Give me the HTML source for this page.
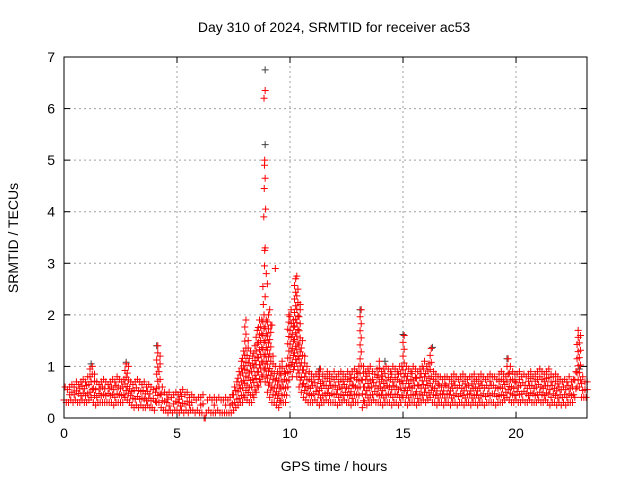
<!DOCTYPE html>
<html><head><meta charset="utf-8"><style>
html,body{margin:0;padding:0;background:#fff}
svg{display:block;font-family:"Liberation Sans",sans-serif}
</style></head><body>
<svg id="chart" width="640" height="480">
<text x="334" y="32" font-size="14" text-anchor="middle">Day 310 of 2024, SRMTID for receiver ac53</text>
<text x="334" y="471" font-size="14" text-anchor="middle">GPS time / hours</text>
<text transform="translate(18,238) rotate(-90)" font-size="14" text-anchor="middle">SRMTID / TECUs</text>
<g id="grid"></g><g id="ticks"></g><g id="black"></g><g id="red"></g>
<rect x="64" y="57" width="523" height="361" fill="none" stroke="#000" stroke-width="1"/>
</svg>
<script>
const xTicks=[0,5,10,15,20];
const yTicks=[0,1,2,3,4,5,6,7];
const slotStep=0.1;
const hiVals=[.6,.55,.6,.65,.6,.7,.65,.7,.75,.7,
.8,.95,1.0,.85,.7,.65,.7,.75,.7,.65,
.7,.75,.7,.8,.75,.7,.75,1.05,1.0,.7,
.65,.7,.75,.7,.65,.7,.6,.65,.6,.55,
.5,1.4,1.2,.6,.5,.45,.5,.4,.45,.5,
.45,.5,.55,.45,.5,.4,.45,.4,.35,.4,
.4,.45,.0,.35,.4,.35,.4,.35,.4,.35,
.35,.4,.35,.4,.45,.6,.7,.9,1.1,1.3,
1.9,1.5,1.3,1.2,1.4,1.7,1.9,1.9,2.0,1.9,
2.0,1.8,1.2,1.0,.9,1.0,1.1,.9,1.0,2.0,
2.1,1.9,2.7,2.5,2.1,1.5,1.2,1.0,.9,.85,
.8,.85,.9,.95,.85,.8,.9,.85,.8,.9,
.8,.85,.9,.85,.8,.9,.85,.9,.95,.9,
1.0,2.1,1.0,.9,.95,1.0,.9,.85,.95,1.1,
.9,.95,1.0,.95,.9,1.0,.95,.9,1.0,1.0,
1.6,1.0,.95,.9,1.0,.95,.9,.95,1.0,1.1,
1.0,1.05,1.35,.9,.85,.8,.8,.75,.8,.8,
.75,.8,.85,.8,.75,.8,.85,.8,.75,.8,
.8,.85,.75,.8,.85,.8,.75,.8,.85,.8,
.8,.75,.85,.9,.85,.8,1.15,1.0,.9,.85,
.85,.9,.8,.85,.8,.85,.9,.8,.85,.9,
.95,.9,.85,.9,.95,.85,.8,.85,.8,.75,
.7,.75,.7,.8,.7,.75,.9,1.7,1.6,.8,
.7,.7];
const loVals=[.35,.3,.3,.35,.3,.35,.3,.3,.35,.3,
.3,.35,.4,.3,.25,.3,.3,.3,.3,.3,
.3,.3,.25,.3,.3,.3,.3,.4,.35,.3,
.25,.2,.25,.2,.25,.2,.2,.25,.2,.2,
.15,.3,.3,.2,.15,.15,.1,.15,.1,.15,
.15,.1,.15,.1,.15,.1,.15,.15,.1,.15,
.1,.1,.0,.1,.15,.1,.1,.1,.15,.1,
.1,.1,.1,.1,.1,.15,.2,.25,.3,.3,
.4,.35,.3,.3,.4,.5,.6,.7,.8,.7,
.5,.4,.3,.3,.25,.2,.3,.3,.3,.6,
.9,.8,1.0,.8,.6,.5,.4,.35,.3,.3,
.3,.35,.3,.25,.3,.3,.35,.3,.3,.3,
.3,.25,.3,.3,.35,.3,.3,.25,.3,.3,
.3,.6,.2,.3,.25,.3,.3,.35,.3,.3,
.3,.25,.3,.3,.3,.25,.3,.3,.25,.3,
.4,.3,.25,.3,.3,.3,.25,.3,.3,.35,
.3,.35,.4,.3,.3,.25,.3,.3,.25,.3,
.3,.25,.3,.3,.25,.3,.3,.25,.3,.3,
.25,.3,.3,.25,.3,.3,.25,.3,.3,.3,
.3,.25,.3,.3,.3,.35,.4,.35,.3,.3,
.35,.3,.3,.35,.3,.3,.35,.3,.3,.3,
.35,.3,.3,.35,.3,.25,.3,.3,.25,.3,
.25,.3,.25,.3,.3,.3,.4,.6,.6,.4,
.4,.4];
const spikeTimes=[8.85,8.9,8.88,8.87,8.9,8.86,8.92,8.84,8.9,8.88,8.87,9.35,9.1,9.2,10.45,10.3,8.8,8.95,8.9,8.82,9.0];
const spikeVals=[6.2,6.35,5.0,4.9,4.65,4.45,4.05,3.9,3.3,3.25,2.95,2.9,2.1,1.8,2.2,2.75,2.55,2.8,2.35,2.2,2.6];
const blackTimes=[8.9,8.9,1.2,15.0,19.6,14.2,11.3,2.75,4.1,22.8,13.1,16.3];
const blackVals=[6.75,5.3,1.05,1.62,1.15,1.1,.95,1.08,1.4,.95,2.1,1.37];

const X0=64,X1=587,Y0=418,Y1=57,XMAX=23.14,YMAX=7;
const xs=v=>X0+(X1-X0)*v/XMAX, ys=v=>Y0-(Y0-Y1)*v/YMAX;
const NS="http://www.w3.org/2000/svg";
function mk(tag,attrs,parent){const e=document.createElementNS(NS,tag);for(const k in attrs)e.setAttribute(k,attrs[k]);parent.appendChild(e);return e;}
const grid=document.getElementById('grid'),ticks=document.getElementById('ticks');
xTicks.forEach(t=>{const x=xs(t);
 if(t>0){const g=mk('line',{x1:x,x2:x,y1:Y0,y2:Y1,stroke:'#a0a0a0','stroke-dasharray':'2,3'},grid);
 
 }
 mk('line',{x1:x,x2:x,y1:Y0,y2:Y0-6,stroke:'#000'},ticks);mk('line',{x1:x,x2:x,y1:Y1,y2:Y1+6,stroke:'#000'},ticks);
 const l=mk('text',{x:x,y:Y0+20,'font-size':14,'text-anchor':'middle'},ticks);l.textContent=t;
 
 });
yTicks.forEach(t=>{const y=ys(t);
 if(t>0&&t<7){const g=mk('line',{x1:X0,x2:X1,y1:y,y2:y,stroke:'#a0a0a0','stroke-dasharray':'2,3'},grid);
 
 }
 mk('line',{x1:X0,x2:X0+6,y1:y,y2:y,stroke:'#000'},ticks);mk('line',{x1:X1,x2:X1-6,y1:y,y2:y,stroke:'#000'},ticks);
 const l=mk('text',{x:X0-9,y:y+5,'font-size':14,'text-anchor':'end'},ticks);l.textContent=t;
 
 });
function plus(t,v,color,parent){const x=xs(t),y=ys(v);
 const p=mk('path',{d:`M${x-3.5},${y}h7M${x},${y-3.5}v7`,stroke:color,'stroke-width':1,fill:'none'},parent);
 
 }
const red=document.getElementById('red'),black=document.getElementById('black');
blackTimes.forEach((t,i)=>plus(t,blackVals[i],'#404040',black));
hiVals.forEach((h,i)=>{const lo=loVals[i],t=i*slotStep;
 plus(t,lo,'#ff0000',red);plus(t+0.05,h,'#ff0000',red);
 const n=Math.floor((h-lo)/0.13);
 for(let k=1;k<n;k++)plus(t+(k%2)*0.05,lo+(h-lo)*k/n,'#ff0000',red);});
spikeTimes.forEach((t,i)=>plus(t,spikeVals[i],'#ff0000',red));
</script>
</body></html>
